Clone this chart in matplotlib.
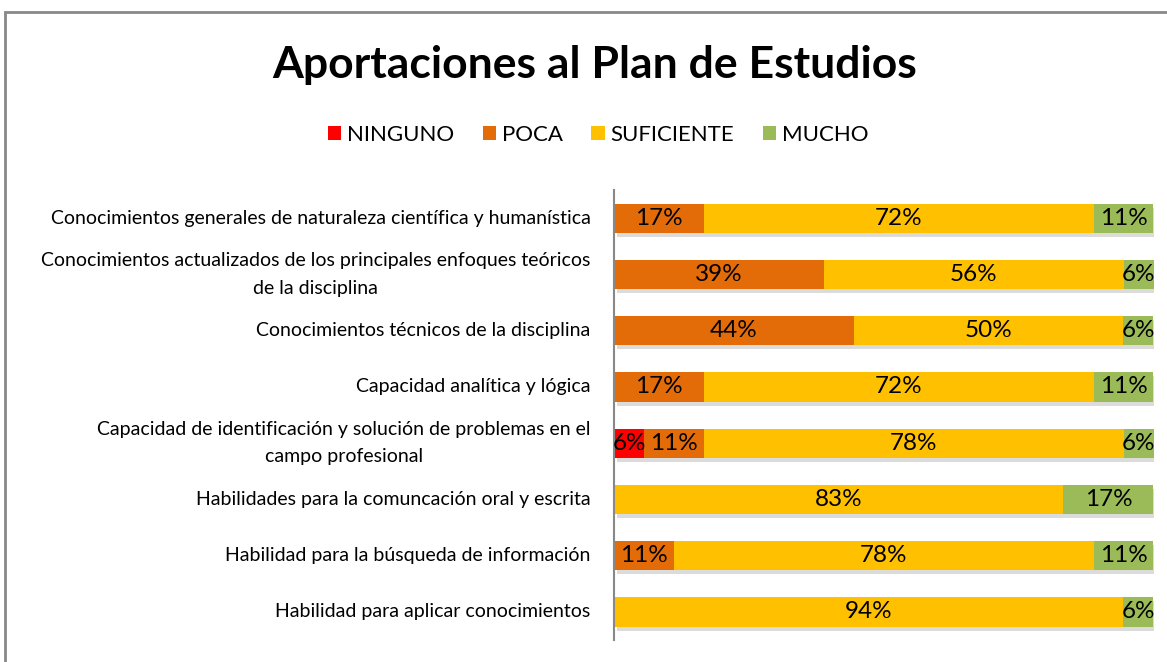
import numpy as np
import matplotlib
matplotlib.use('Agg')
import matplotlib.pyplot as plt
import matplotlib.patheffects as pe
from matplotlib.patches import Rectangle

plt.rcParams['font.family'] = ['Lato', 'DejaVu Sans']

# categories, top to bottom
categories = [
    'Conocimientos generales de naturaleza científica y humanística',
    'Conocimientos actualizados de los principales enfoques teóricos\nde la disciplina',
    'Conocimientos técnicos de la disciplina',
    'Capacidad analítica y lógica',
    'Capacidad de identificación y solución de problemas en el\ncampo profesional',
    'Habilidades para la comuncación oral y escrita',
    'Habilidad para la búsqueda de información',
    'Habilidad para aplicar conocimientos',
]

series_names = ['NINGUNO', 'POCA', 'SUFICIENTE', 'MUCHO']
colors = ['#FF0000', '#E36C09', '#FFC000', '#9BBB59']

ninguno = [0, 0, 0, 0, 5.6, 0, 0, 0]
poca = [16.7, 38.9, 44.4, 16.7, 11.1, 0, 11.1, 0]
suficiente = [72.2, 55.6, 50.0, 72.2, 77.8, 83.3, 77.8, 94.4]
mucho = [11.1, 5.6, 5.6, 11.1, 5.6, 16.7, 11.1, 5.6]

W, H = 1167, 662
fig = plt.figure(figsize=(W / 100, H / 100), dpi=100)

# outer chart frame
fig.patches.append(Rectangle((5 / W, -0.1), 1.2, 1 - 12 / H + 0.1, transform=fig.transFigure,
                             fill=False, edgecolor='#888888', linewidth=2))

ax = fig.add_axes([614 / W, 1 - 640 / H, (1154 - 614) / W, (640 - 190) / H])

y = np.arange(len(categories))
left = np.zeros(len(categories))
all_bars = []
for name, vals, col in zip(series_names, [ninguno, poca, suficiente, mucho], colors):
    vals = np.array(vals)
    bars = ax.barh(y, vals, left=left, height=0.52, color=col, label=name, linewidth=0)
    all_bars.append(bars)
    for yi, l, v in zip(y, left, vals):
        if v > 0:
            ax.text(l + v / 2, yi, f'{v:.0f}%', ha='center', va='center', fontsize=17.5, color='black')
    left += vals

ax.set_xlim(0, left.max())
ax.set_ylim(len(categories) - 0.5, -0.5)
ax.set_yticks(y)
ax.set_yticklabels(categories, fontsize=14, multialignment='center', linespacing=1.75, va='center')
ax.tick_params(axis='y', length=0, pad=17)
ax.set_xticks([])
for s in ['top', 'right', 'bottom']:
    ax.spines[s].set_visible(False)
ax.spines['left'].set_color('#888888')
ax.spines['left'].set_linewidth(1.5)

fig.text(595 / W, 1 - 65 / H, 'Aportaciones al Plan de Estudios', ha='center', va='center',
         fontsize=32, fontweight='bold')
fig.legend(loc='center', bbox_to_anchor=(598 / W, 1 - 135 / H), ncol=4, frameon=False,
           fontsize=16, handlelength=0.6, handleheight=0.6, handletextpad=0.25, columnspacing=1.3)

# soft shadow under the bars (added after legend so the keys stay flat)
shadow = [pe.SimplePatchShadow(offset=(2, -3), shadow_rgbFace='#999999', alpha=0.35), pe.Normal()]
for bars in all_bars:
    for b in bars:
        b.set_path_effects(shadow)

fig.savefig('out.png', dpi=100)
